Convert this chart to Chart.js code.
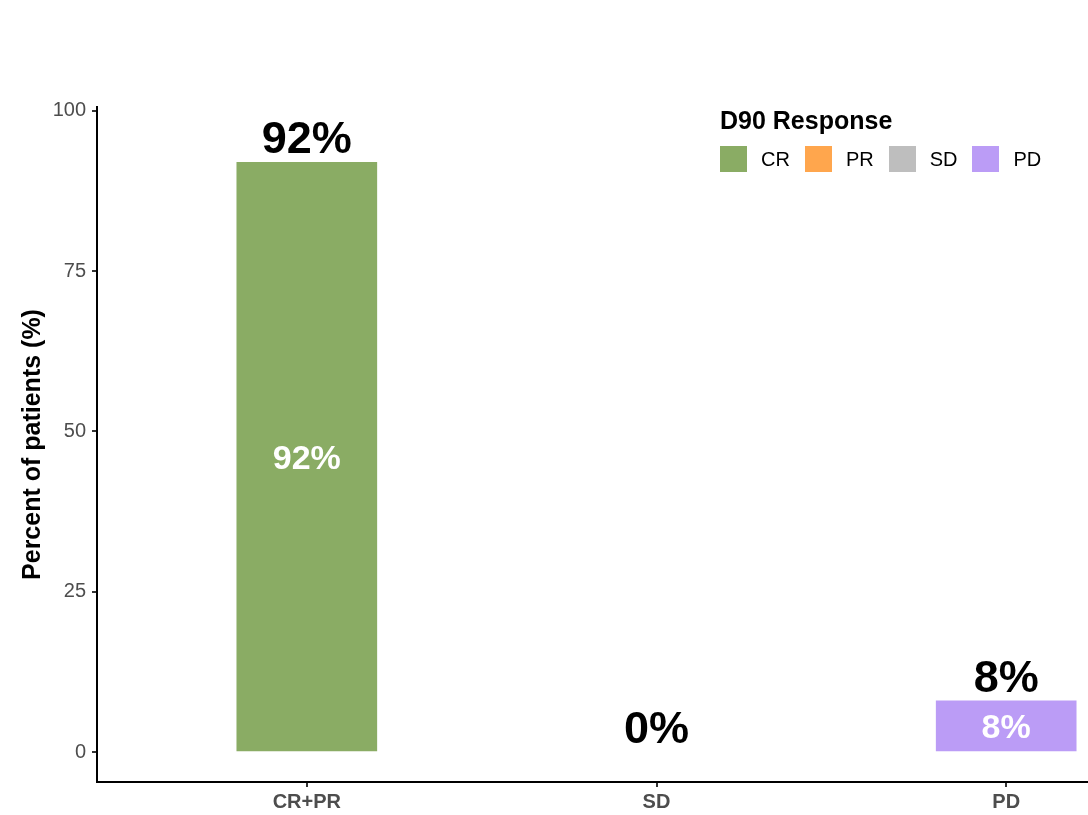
<!DOCTYPE html>
<html>
<head>
<meta charset="utf-8">
<script src="https://cdn.jsdelivr.net/npm/chart.js@4/dist/chart.umd.min.js"></script>
<style>
  html, body { margin: 0; padding: 0; background: #fff; overflow: hidden; }
  #wrap { position: relative; width: 1230px; height: 815px; }
  #legend { position: absolute; left: 720px; top: 104px; font-family: "Liberation Sans", Arial, sans-serif; }
  #legend .ttl { font-weight: bold; font-size: 25px; color: #000; line-height: 32px; }
  #legend .items { display: flex; margin-top: 10px; }
  #legend .it { display: flex; align-items: center; margin-right: 15px; }
  #legend .sw { width: 27px; height: 26px; margin-right: 14px; }
  #legend .lb { font-size: 20px; color: #000; }
</style>
</head>
<body>
<div id="wrap">
  <canvas id="chart" width="1230" height="815"></canvas>
  <div id="legend"></div>
</div>
<script>
// 데이터
var categories = ["CR+PR", "SD", "PD"];
var responseLevels = ["CR", "PR", "SD", "PD"];
var crValues = [92, 0, 0];
var prValues = [0, 0, 0];
var sdValues = [0, 0, 0];
var pdValues = [0, 0, 8];
var yTicks = [0, 25, 50, 75, 100];

// 색상
var levelColors = ["#8aac64", "#ffa64d", "#bebebe", "#bb9cf6"];
var FONT = "'Liberation Sans', Arial, sans-serif";

var seriesList = [crValues, prValues, sdValues, pdValues];

// 0 값은 막대를 그리지 않음
function toPoints(values) {
    return values.map(function (v, i) { return { x: i, y: v === 0 ? null : v }; });
}

var datasets = responseLevels.map(function (name, k) {
    return {
        label: name,
        data: toPoints(seriesList[k]),
        backgroundColor: levelColors[k],
        borderWidth: 0,
        barThickness: 140
    };
});

// 막대 안/위 라벨
var labelPlugin = {
    id: "barLabels",
    afterDatasetsDraw: function (chart) {
        var ctx = chart.ctx;
        var yScale = chart.scales.y;
        var xScale = chart.scales.x;
        ctx.save();
        ctx.textAlign = "center";
        // 안쪽 흰색 라벨
        ctx.font = "bold 34px " + FONT;
        ctx.fillStyle = "#ffffff";
        ctx.textBaseline = "middle";
        chart.data.datasets.forEach(function (ds, di) {
            var meta = chart.getDatasetMeta(di);
            meta.data.forEach(function (bar, i) {
                var v = ds.data[i].y;
                if (v > 0) {
                    ctx.fillText(v + "%", bar.x, (bar.y + bar.base) / 2 + 3);
                }
            });
        });
        // 합계 라벨
        ctx.font = "bold 45px " + FONT;
        ctx.fillStyle = "#000000";
        ctx.textBaseline = "alphabetic";
        categories.forEach(function (c, i) {
            var total = 0;
            seriesList.forEach(function (s) { total += s[i]; });
            var px = xScale.getPixelForValue(i);
            var py = yScale.getPixelForValue(total) - 9;
            ctx.fillText(total + "%", px, py);
        });
        ctx.restore();
    }
};

new Chart(document.getElementById("chart"), {
    type: "bar",
    data: { datasets: datasets },
    options: {
        responsive: false,
        animation: false,
        layout: { padding: { top: 107, left: 0, right: 14, bottom: 0 } },
        plugins: {
            legend: { display: false },
            tooltip: { enabled: false }
        },
        scales: {
            x: {
                type: "linear",
                stacked: true,
                offset: false,
                min: -0.6,
                max: 2.6,
                afterBuildTicks: function (scale) {
                    scale.ticks = categories.map(function (c, i) { return { value: i }; });
                },
                afterFit: function (scale) { scale.height = 33; },
                ticks: {
                    callback: function (v) { return categories[v]; },
                    font: { family: FONT, size: 20, weight: "bold" },
                    color: "#4d4d4d",
                    padding: 3,
                    maxRotation: 0
                },
                grid: { offset: false, drawOnChartArea: false, drawTicks: true, tickLength: 5, color: "#333333", lineWidth: 2 },
                border: { display: true, color: "#000000", width: 2 }
            },
            y: {
                stacked: true,
                min: -4.68,
                max: 100.62,
                afterBuildTicks: function (scale) {
                    scale.ticks = yTicks.map(function (v) { return { value: v }; });
                },
                afterFit: function (scale) { scale.width = 97; },
                ticks: {
                    font: { family: FONT, size: 20 },
                    color: "#4d4d4d",
                    padding: 6
                },
                title: {
                    display: true,
                    text: "Percent of patients (%)",
                    font: { family: FONT, size: 25, weight: "bold" },
                    color: "#000000",
                    padding: { top: 18, bottom: 0 }
                },
                grid: { drawOnChartArea: false, drawTicks: true, tickLength: 5, color: "#333333", lineWidth: 2 },
                border: { display: true, color: "#000000", width: 2 }
            }
        }
    },
    plugins: [labelPlugin]
});

// 범례
var legendBox = document.getElementById("legend");
var html = '<div class="ttl">D90 Response</div><div class="items">';
responseLevels.forEach(function (name, k) {
    html += '<div class="it"><div class="sw" style="background:' + levelColors[k] + '"></div><span class="lb">' + name + '</span></div>';
});
html += '</div>';
legendBox.innerHTML = html;
</script>
</body>
</html>
